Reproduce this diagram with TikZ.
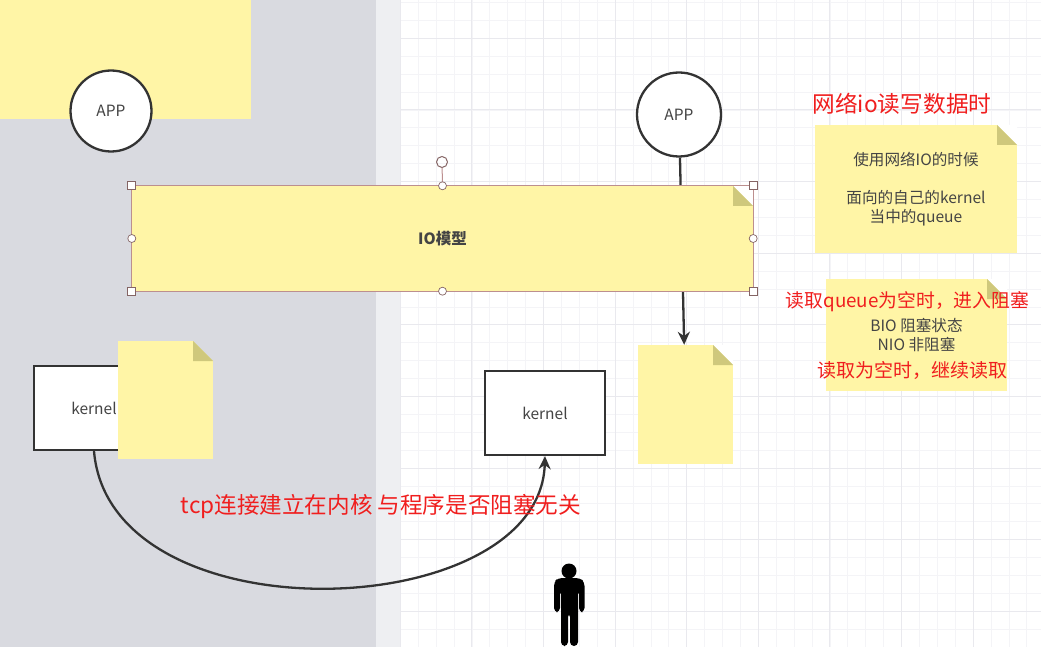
\documentclass[tikz,border=0pt]{standalone}
\usepackage{fontspec}
\setmainfont{Noto Sans CJK SC}
\usepackage{xcolor}
\usetikzlibrary{arrows.meta, calc}

\definecolor{canvasgray}{HTML}{D9DAE0}
\definecolor{stripgray}{HTML}{EEEFF2}
\definecolor{gridminor}{HTML}{F4F4F7}
\definecolor{gridmajor}{HTML}{E9E9EE}
\definecolor{notefill}{HTML}{FFF5A6}
\definecolor{notefold}{HTML}{CFC87C}
\definecolor{inkline}{HTML}{333333}
\definecolor{inktext}{HTML}{444444}
\definecolor{handleline}{HTML}{BC8F8F}
\definecolor{redtext}{HTML}{F01E1E}

\tikzset{
    stickynote/.style={rectangle, fill=notefill, inner sep=0pt, align=center, text=inktext,
        font=\fontsize{15.6}{19}\selectfont,
        path picture={
            \fill[#1] ([xshift=-20pt]path picture bounding box.north east) -- (path picture bounding box.north east) -- ([yshift=-20pt]path picture bounding box.north east) -- cycle;
            \fill[notefold] ([xshift=-20pt]path picture bounding box.north east) -- ([yshift=-20pt]path picture bounding box.north east) -- ([xshift=-20pt,yshift=-20pt]path picture bounding box.north east) -- cycle;
        }},
    appnode/.style={circle, draw=inkline, line width=2.3pt, fill=white, inner sep=0pt, minimum size=84pt, text=inktext, font=\fontsize{15.5}{17}\selectfont},
    kernelbox/.style={rectangle, draw=inkline, line width=2.3pt, fill=white, inner sep=0pt, minimum width=120pt, minimum height=84pt, text=inktext, font=\fontsize{15.5}{17}\selectfont},
    redlabel/.style={text=redtext, inner sep=0pt},
    handlesq/.style={rectangle, draw=handleline!70!black, line width=0.7pt, fill=white, inner sep=0pt, minimum size=8pt},
    handlecirc/.style={circle, draw=handleline!70!black, line width=0.7pt, fill=white, inner sep=0pt, minimum size=8pt},
    link/.style={draw=inkline, line width=2.3pt, -{Stealth[length=13pt,width=12pt]}}
}

\begin{document}
\begin{tikzpicture}[x=1pt, y=-1pt]
    \useasboundingbox (0,0) rectangle (1041,647);

    % Canvas
    \fill[canvasgray] (0,0) rectangle (376,647);
    \fill[stripgray] (376,0) rectangle (400,647);
    \foreach \i in {0,...,35} {
        \draw[gridminor, line width=0.8pt] ({400.3+17.9*\i},0) -- ({400.3+17.9*\i},647);
        \draw[gridminor, line width=0.8pt] (400,{2.6+17.9*\i}) -- (1041,{2.6+17.9*\i});
    }
    \foreach \i in {0,...,8} {
        \draw[gridmajor, line width=1pt] ({400.3+71.6*\i},0) -- ({400.3+71.6*\i},647);
        \draw[gridmajor, line width=1pt] (400,{38.4+71.6*\i}) -- (1041,{38.4+71.6*\i});
    }

    % Shapes
    \fill[notefill] (0,0) rectangle (251,119);
    \node[appnode, minimum size=81pt] (appL) at (111,111) {APP};
    \node[appnode] (appR) at (679,114.5) {APP};
    \node[kernelbox] (kernelL) at (94,408) {kernel};
    \node[kernelbox] (kernelR) at (545,413) {kernel};
    \node[stickynote=white, minimum width=95pt, minimum height=119pt] (noteC) at (685.5,404.5) {};

    % Connectors
    \draw[link] (appR) -- (noteC);
    \draw[link] (kernelL.south) .. controls (110,640) and (540,625) .. (kernelR.south);

    % Notes
    \node[stickynote=canvasgray, minimum width=95pt, minimum height=118pt] (noteL) at (165.5,400) {};
    \node[stickynote=white, minimum width=621pt, minimum height=105pt, font=\fontsize{15.5}{19}\selectfont\bfseries] (iomodel) at (442.5,238.5) {IO模型};
    \node[stickynote=white, minimum width=202pt, minimum height=128pt] (noteA) at (916,189) {\raisebox{-3pt}{使用网络IO的时候}\\[19pt]\raisebox{-3pt}{面向的自己的kernel}\\\raisebox{-3pt}{当中的queue}};
    \node[stickynote=white, minimum width=181pt, minimum height=112pt] (noteB) at (916.5,335) {\raisebox{-1pt}{BIO 阻塞状态}\\\raisebox{-1pt}{NIO 非阻塞}};

    % Selection
    \draw[handleline, line width=0.7pt] (iomodel.north west) rectangle (iomodel.south east);
    \node[handlecirc, minimum size=11pt, line width=1pt, fill=none] (rotate) at (442,162) {};
    \draw[handleline, line width=1pt] (rotate) -- (iomodel.north);
    \foreach \a in {north west, north east, south west, south east}
        \node[handlesq] (sq \a) at (iomodel.\a) {};
    \foreach \a in {north, south, west, east}
        \node[handlecirc] (circ \a) at (iomodel.\a) {};

    % Labels
    \node[redlabel, font=\fontsize{22.7}{26}\selectfont] (titleio) at (902,104) {网络io读写数据时};
    \node[redlabel, font=\fontsize{18.8}{22}\selectfont] (emptyblock) at (907.5,302) {读取queue为空时，进入阻塞};
    \node[redlabel, font=\fontsize{19}{22}\selectfont] (emptyread) at (912,370) {读取为空时，继续读取};
    \node[redlabel, font=\fontsize{22.6}{26}\selectfont] (tcpnote) at (381,507) {tcp连接建立在内核 与程序是否阻塞无关};

    % Person
    \node[circle, fill=black, inner sep=0pt, minimum size=15pt] (head) at (569,571) {};
    \fill[black, rounded corners=4pt] (554,612) -- (554,582) -- (558,578) -- (580,578) -- (584.5,582) -- (584.5,612) -- (579,612) -- (579,590) -- (578,590) -- (578,646) -- (570,646) -- (570,613) -- (568,613) -- (568,646) -- (561,646) -- (561,590) -- (560,590) -- (560,612) -- cycle;
\end{tikzpicture}
\end{document}
